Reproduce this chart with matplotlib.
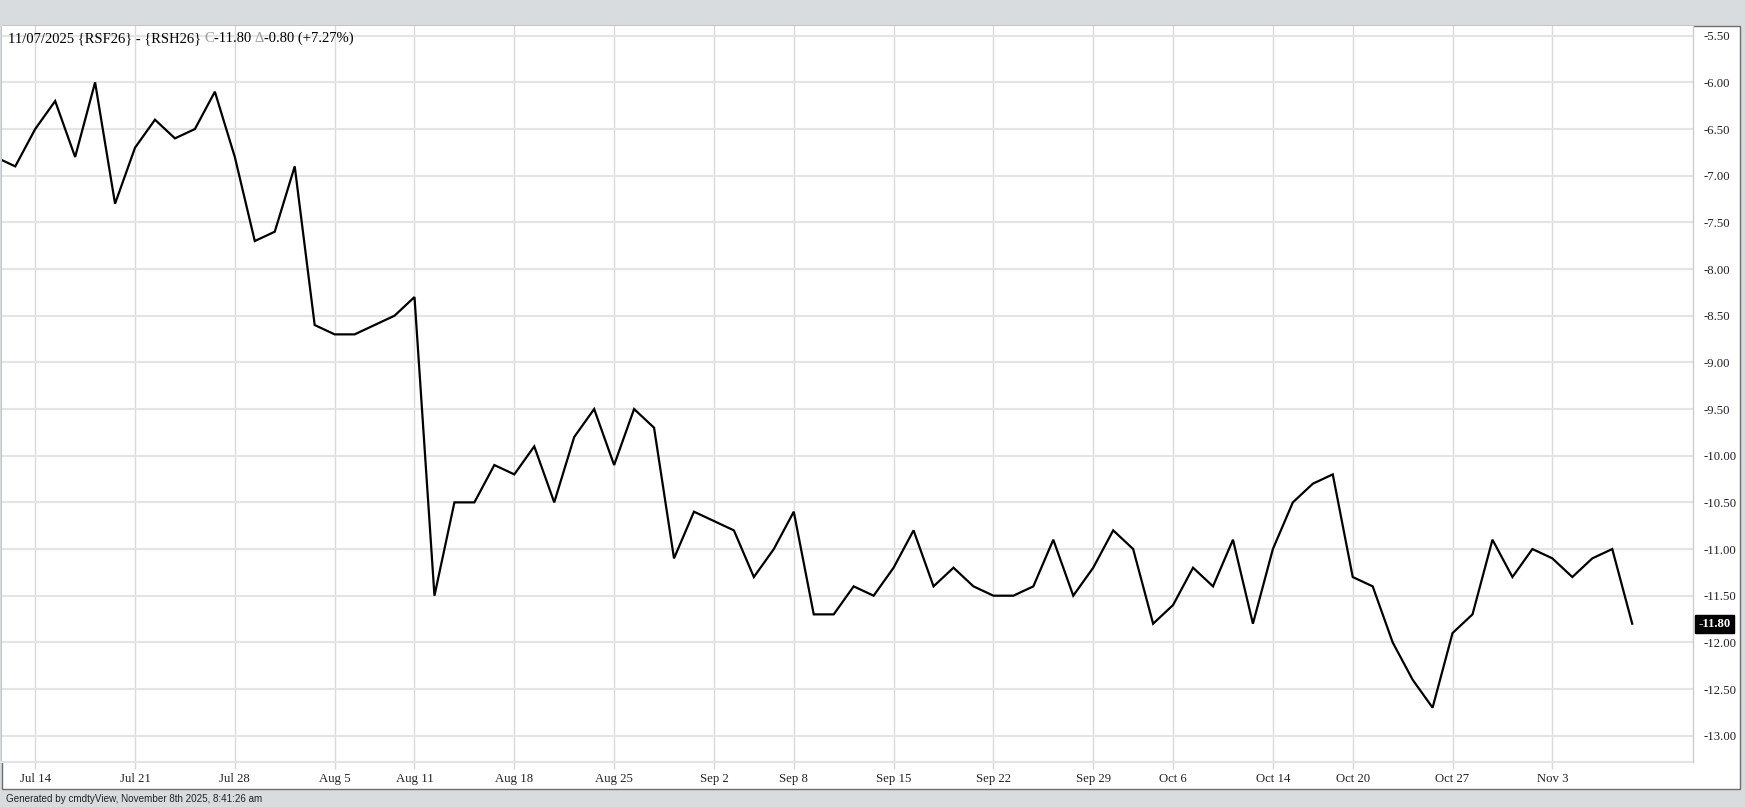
import matplotlib
matplotlib.use("Agg")
import matplotlib.pyplot as plt
from matplotlib.patches import Rectangle

# trading days shown on the chart (Oct 3 and Aug 4 have no print)
dates = [
    "Jul 10", "Jul 11", "Jul 14", "Jul 15", "Jul 16", "Jul 17", "Jul 18",
    "Jul 21", "Jul 22", "Jul 23", "Jul 24", "Jul 25",
    "Jul 28", "Jul 29", "Jul 30", "Jul 31", "Aug 1",
    "Aug 5", "Aug 6", "Aug 7", "Aug 8",
    "Aug 11", "Aug 12", "Aug 13", "Aug 14", "Aug 15",
    "Aug 18", "Aug 19", "Aug 20", "Aug 21", "Aug 22",
    "Aug 25", "Aug 26", "Aug 27", "Aug 28", "Aug 29",
    "Sep 2", "Sep 3", "Sep 4", "Sep 5",
    "Sep 8", "Sep 9", "Sep 10", "Sep 11", "Sep 12",
    "Sep 15", "Sep 16", "Sep 17", "Sep 18", "Sep 19",
    "Sep 22", "Sep 23", "Sep 24", "Sep 25", "Sep 26",
    "Sep 29", "Sep 30", "Oct 1", "Oct 2",
    "Oct 6", "Oct 7", "Oct 8", "Oct 9", "Oct 10",
    "Oct 14", "Oct 15", "Oct 16", "Oct 17",
    "Oct 20", "Oct 21", "Oct 22", "Oct 23", "Oct 24",
    "Oct 27", "Oct 28", "Oct 29", "Oct 30", "Oct 31",
    "Nov 3", "Nov 4", "Nov 5", "Nov 6", "Nov 7",
]

# RSF26 - RSH26 spread close
spread = [
    -6.80, -6.90, -6.50, -6.20, -6.80, -6.00, -7.30,
    -6.70, -6.40, -6.60, -6.50, -6.10,
    -6.80, -7.70, -7.60, -6.90, -8.60,
    -8.70, -8.70, -8.60, -8.50,
    -8.30, -11.50, -10.50, -10.50, -10.10,
    -10.20, -9.90, -10.50, -9.80, -9.50,
    -10.10, -9.50, -9.70, -11.10, -10.60,
    -10.70, -10.80, -11.30, -11.00,
    -10.60, -11.70, -11.70, -11.40, -11.50,
    -11.20, -10.80, -11.40, -11.20, -11.40,
    -11.50, -11.50, -11.40, -10.90, -11.50,
    -11.20, -10.80, -11.00, -11.80,
    -11.60, -11.20, -11.40, -10.90, -11.80,
    -11.00, -10.50, -10.30, -10.20,
    -11.30, -11.40, -12.00, -12.40, -12.70,
    -11.90, -11.70, -10.90, -11.30, -11.00,
    -11.10, -11.30, -11.10, -11.00, -11.80,
]

tick_labels = ["Jul 14", "Jul 21", "Jul 28", "Aug 5", "Aug 11", "Aug 18", "Aug 25",
               "Sep 2", "Sep 8", "Sep 15", "Sep 22", "Sep 29", "Oct 6", "Oct 14",
               "Oct 20", "Oct 27", "Nov 3"]
y_ticks = [-5.5, -6.0, -6.5, -7.0, -7.5, -8.0, -8.5, -9.0, -9.5,
           -10.0, -10.5, -11.0, -11.5, -12.0, -12.5, -13.0]

title_parts = [("11/07/2025 {RSF26} - {RSH26} ", "black"), ("C", "#9a9a9a"),
               ("-11.80 ", "black"), ("\u0394", "#9a9a9a"), ("-0.80 (+7.27%)", "black")]
footer = "Generated by cmdtyView, November 8th 2025, 8:41:26 am"

W, H = 1745, 807
SERIF = ["Liberation Serif", "DejaVu Serif"]
BG = "#d8dcdf"

fig = plt.figure(figsize=(W / 100, H / 100), dpi=100, facecolor=BG)

# white chart panel with dark frame
fig.patches.append(Rectangle((1.5 / W, 1 - 789 / H), (1740 - 1.5) / W, (789 - 26) / H,
                             transform=fig.transFigure, facecolor="white",
                             edgecolor="#6e6e6e", linewidth=1.0, zorder=0))

ax = fig.add_axes([1.5 / W, 1 - 762.3 / H, (1692.5 - 1.5) / W, (762.3 - 26) / H])
ax.set_facecolor("white")
ax.set_zorder(1)

x = list(range(len(spread)))
ax.plot(x, spread, color="black", linewidth=1.6, solid_joinstyle="miter", zorder=3)

ax.set_xlim(0.3116, 85.02)
ax.set_ylim(-13.285, -5.396)

ax.set_xticks([dates.index(d) for d in tick_labels])
ax.set_xticklabels(tick_labels, fontfamily=SERIF, fontsize=9.2)
ax.set_yticks(y_ticks)
ax.set_yticklabels(["%.2f" % v for v in y_ticks], fontfamily=SERIF, fontsize=9.2)
ax.yaxis.tick_right()

ax.tick_params(axis="x", length=5, width=1, colors="#d6d6d6", labelcolor="#222222", pad=3)
ax.tick_params(axis="y", length=0, pad=8, colors="#222222")

ax.grid(axis="y", color="#e4e4e4", linewidth=1.5, zorder=1)
ax.grid(axis="x", color="#dadada", linewidth=1.0, zorder=1)
ax.set_axisbelow(True)

ax.spines["top"].set_visible(False)
ax.spines["left"].set_visible(False)
ax.spines["right"].set_color("#cccccc")
ax.spines["right"].set_linewidth(1.0)
ax.spines["bottom"].set_color("#e4e4e4")
ax.spines["bottom"].set_linewidth(1.5)

# last value marker on the price scale
last = spread[-1]
ax.annotate("%.2f" % last, xy=(1, last), xycoords=("axes fraction", "data"),
            xytext=(4, 0), textcoords="offset points", ha="left", va="center",
            fontfamily=SERIF, fontsize=9.2, fontweight="bold", color="white",
            bbox=dict(boxstyle="square,pad=0.25", facecolor="black", edgecolor="black"),
            annotation_clip=False, zorder=5)

# title made of coloured pieces
fig.canvas.draw()
renderer = fig.canvas.get_renderer()
xpos = 7.5
for txt, col in title_parts:
    t = fig.text(xpos / W, 1 - 38.5 / H, txt, color=col, fontfamily=SERIF, fontsize=10.5,
                 ha="left", va="center", zorder=6)
    bb = t.get_window_extent(renderer)
    xpos = bb.x1

fig.text(5.5 / W, 1 - 798.5 / H, footer, fontfamily=["Liberation Sans", "DejaVu Sans"],
         fontsize=7.1, color="#222222", ha="left", va="center")

fig.savefig("out.png", dpi=100, facecolor=BG)
